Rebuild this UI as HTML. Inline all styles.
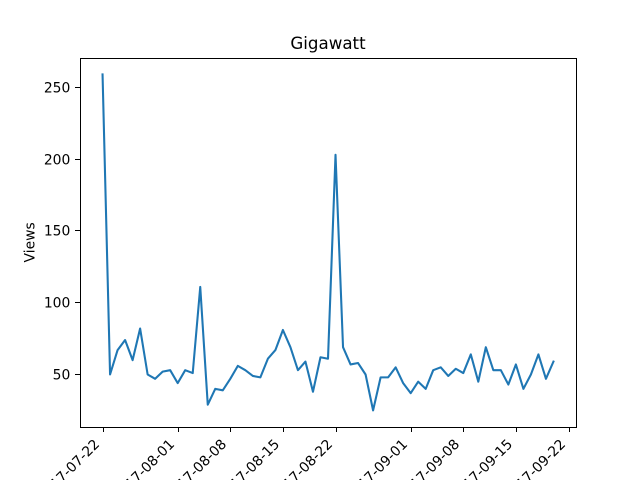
<!DOCTYPE html>
<html>
<head>
<meta charset="utf-8">
<title>Gigawatt</title>
<style>
html,body{margin:0;padding:0;background:#fff;width:640px;height:480px;overflow:hidden}
svg{display:block}
text{font-family:"DejaVu Sans","Liberation Sans",sans-serif;fill:#000}
</style>
</head>
<body>
<svg id="chart" width="640" height="480" viewBox="0 0 640 480">
  <rect x="0" y="0" width="640" height="480" fill="#fff"/>
  <g id="x-axis"></g>
  <g id="y-axis"></g>
  <g id="plot"></g>
  <g id="spines"></g>
  <text x="328" y="49" text-anchor="middle" font-size="16.67">Gigawatt</text>
  <text x="0" y="0" transform="translate(34.5 242.4) rotate(-90)" text-anchor="middle" font-size="13.89">Views</text>
</svg>
<script>
var viewDates = [
  '2017-07-21','2017-07-22','2017-07-23','2017-07-24','2017-07-25','2017-07-26','2017-07-27','2017-07-28','2017-07-29','2017-07-30','2017-07-31',
  '2017-08-01','2017-08-02','2017-08-03','2017-08-04','2017-08-05','2017-08-06','2017-08-07','2017-08-08','2017-08-09','2017-08-10',
  '2017-08-11','2017-08-12','2017-08-13','2017-08-14','2017-08-15','2017-08-16','2017-08-17','2017-08-18','2017-08-19','2017-08-20',
  '2017-08-21','2017-08-22','2017-08-23','2017-08-24','2017-08-25','2017-08-26','2017-08-27','2017-08-28','2017-08-29','2017-08-30',
  '2017-08-31','2017-09-01','2017-09-02','2017-09-03','2017-09-04','2017-09-05','2017-09-06','2017-09-07','2017-09-08','2017-09-09',
  '2017-09-10','2017-09-11','2017-09-12','2017-09-13','2017-09-14','2017-09-15','2017-09-16','2017-09-17','2017-09-18','2017-09-19'
];
var viewCounts = [
  259,50,67,74,60,82,50,47,52,53,
  44,53,51,111,29,40,39,47,56,53,
  49,48,61,67,81,69,53,59,38,62,
  61,203,69,57,58,50,25,48,48,55,
  44,37,45,40,53,55,49,54,51,64,
  45,69,53,53,43,57,40,50,64,47,
  59
];
var xTickLabels = ['2017-07-22','2017-08-01','2017-08-08','2017-08-15','2017-08-22','2017-09-01','2017-09-08','2017-09-15','2017-09-22'];
var yTickValues = [50,100,150,200,250];

var NS = 'http://www.w3.org/2000/svg';
var axLeft = 80, axRight = 576, axTop = 57.6, axBottom = 427.2;
var sampleHourOffset = 22.3;

function el(parent, tag, attrs) {
  var n = document.createElementNS(NS, tag);
  for (var k in attrs) n.setAttribute(k, attrs[k]);
  parent.appendChild(n);
  return n;
}
function dayNumber(s, hours) {
  var p = s.split('-');
  return (Date.UTC(+p[0], +p[1] - 1, +p[2]) + (hours || 0) * 3600000) / 86400000;
}
var dataDays = viewDates.map(function (d) { return dayNumber(d, sampleHourOffset); });
var minDay = Math.min.apply(null, dataDays), maxDay = Math.max.apply(null, dataDays);
var minVal = Math.min.apply(null, viewCounts), maxVal = Math.max.apply(null, viewCounts);
var xPad = (maxDay - minDay) * 0.05, yPad = (maxVal - minVal) * 0.05;

function xScale(day) {
  return axLeft + (day - (minDay - xPad)) / ((maxDay + xPad) - (minDay - xPad)) * (axRight - axLeft);
}
function yScale(v) {
  return axBottom - (v - (minVal - yPad)) / ((maxVal + yPad) - (minVal - yPad)) * (axBottom - axTop);
}

var xAxis = document.getElementById('x-axis');
var yAxis = document.getElementById('y-axis');
var plot = document.getElementById('plot');
var spines = document.getElementById('spines');

xTickLabels.forEach(function (label) {
  var x = Math.floor(xScale(dayNumber(label))) + 0.5;
  var tick = el(xAxis, 'line', {x1: x, x2: x, y1: 427.5, y2: 432, stroke: '#000', 'stroke-width': 1});
  
  
  var t = el(xAxis, 'text', {'text-anchor': 'end', 'font-size': 13.89, transform: 'translate(' + (x - 3.2) + ' 445) rotate(-45)'});
  t.textContent = label;
  
  
});

yTickValues.forEach(function (v) {
  var y = Math.round(yScale(v) - 0.5) + 0.5;
  var tick = el(yAxis, 'line', {x1: 75, x2: 80.5, y1: y, y2: y, stroke: '#000', 'stroke-width': 1});
  
  
  var t = el(yAxis, 'text', {x: 70.3, y: y + 5.1, 'text-anchor': 'end', 'font-size': 13.89});
  t.textContent = String(v);
  
  
});

var pts = viewCounts.map(function (v, i) {
  return xScale(dataDays[i]).toFixed(2) + ',' + yScale(v).toFixed(2);
}).join(' ');
var line = el(plot, 'polyline', {points: pts, fill: 'none', stroke: '#1f77b4', 'stroke-width': 2.08, 'stroke-linejoin': 'round', 'stroke-linecap': 'square'});



var frame = el(spines, 'rect', {x: 80.5, y: 58.5, width: 496, height: 369, fill: 'none', stroke: '#000', 'stroke-width': 1});


</script>
</body>
</html>
